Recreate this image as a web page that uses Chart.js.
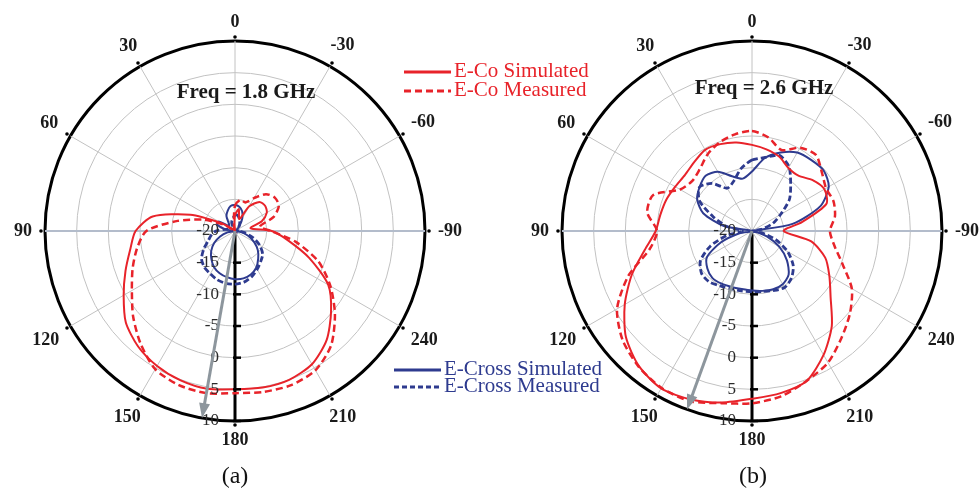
<!DOCTYPE html>
<html>
<head>
<meta charset="utf-8">
<script src="https://cdn.jsdelivr.net/npm/chart.js@4.4.1/dist/chart.umd.min.js"></script>
<style>
  body { margin: 0; background: #fff; }
  #wrap { position: relative; width: 979px; height: 494px; overflow: hidden;
          font-family: "Liberation Serif", "Times New Roman", serif; }
  canvas { position: absolute; top: 0; }
  .cap { position: absolute; top: 462px; width: 60px; text-align: center; font-size: 24px; color: #111; }
  .leg { position: absolute; font-size: 21px; line-height: 20px; white-space: nowrap; }
  .leg svg { vertical-align: middle; margin-right: 3px; }
</style>
</head>
<body>
<div id="wrap">
  <canvas id="chartA" width="490" height="494" style="left:0"></canvas>
  <canvas id="chartB" width="489" height="494" style="left:490px"></canvas>

  <div class="leg" style="left:404px;top:60px;color:#e8232a">
    <svg width="47" height="6"><line x1="0" y1="3" x2="47" y2="3" stroke="#e8232a" stroke-width="3"/></svg>E-Co Simulated
  </div>
  <div class="leg" style="left:404px;top:79px;color:#e8232a">
    <svg width="47" height="6"><line x1="0" y1="3" x2="47" y2="3" stroke="#e8232a" stroke-width="3" stroke-dasharray="7 4"/></svg>E-Co Measured
  </div>
  <div class="leg" style="left:394px;top:358px;color:#2e3b8f">
    <svg width="47" height="6"><line x1="0" y1="3" x2="47" y2="3" stroke="#2e3b8f" stroke-width="3"/></svg>E-Cross Simulated
  </div>
  <div class="leg" style="left:394px;top:375px;color:#2e3b8f">
    <svg width="47" height="6"><line x1="0" y1="3" x2="47" y2="3" stroke="#2e3b8f" stroke-width="3" stroke-dasharray="5 3"/></svg>E-Cross Measured
  </div>

  <div class="cap" style="left:205px">(a)</div>
  <div class="cap" style="left:723px">(b)</div>
</div>

<script>
// angles in degrees, counter-clockwise from the top (0 top, 90 left, 180 bottom)
const angles = Array.from({ length: 36 }, (_, i) => i * 10);
const angleTicks = [0, 30, 60, 90, 120, 150, 180, 210, 240, 270, 300, 330];
const angleTickLabels = ['0', '30', '60', '90', '120', '150', '180', '210', '240', '-90', '-60', '-30'];
const radialTicks = [-20, -15, -10, -5, 0, 5, 10];

// (a) Freq = 1.8 GHz, dB at angles 0..350
const coSimA = [-17.5, -19.5, -20, -20, -20, -19.5, -17.5, -12.5, -6.8, -4.3, -3.2, -1.6,
  0.3, 2.5, 3.8, 4.6, 5.1, 5.3, 5.0, 5.1, 5.0, 4.3, 2.5, -0.2,
  -3.0, -7.5, -11.5, -14.2, -17.5, -15.5, -14.2, -13.8, -14.0, -15.5, -18.0, -16.5];
const coMeaA = [-16, -19, -20, -20, -20, -20, -18, -14.8, -10.8, -6.0, -4.3, -2.8,
  -1.2, 1.0, 3.2, 5.2, 5.9, 6.0, 5.6, 5.8, 5.9, 5.4, 3.6, 0.6,
  -2.6, -6.0, -10.3, -14.3, -16.0, -13.5, -12.0, -11.8, -12.4, -14.0, -15.2, -15.0];
const crSimA = [-15.9, -16, -16.6, -17.3, -18.5, -18.8, -17, -17, -18.5, -20, -18.8, -17.5,
  -16.2, -15.1, -14.2, -13.4, -12.9, -12.6, -12.4, -12.4, -12.7, -13.3, -14.3, -15.3,
  -16.5, -17.8, -19, -20, -20, -20, -20, -19.5, -18.8, -17.7, -16.7, -16.1];
const crMeaA = [-17.5, -18, -18.5, -19.5, -20, -20, -20, -19.5, -18.5, -17, -16.2, -15.5,
  -14.3, -13.1, -12.5, -12.2, -11.8, -11.6, -11.6, -11.8, -12.3, -13.0, -13.7, -14.3,
  -15.5, -17, -18.5, -19.5, -20, -19.5, -19.5, -19.5, -19, -18.5, -18, -17.5];

// (b) Freq = 2.6 GHz
const coSimB = [-6.4, -5.8, -5.4, -5.2, -5.8, -6.2, -6.0, -5.6, -5.3, -4.8, -2.8, 0.2,
  3.2, 6.0, 7.8, 8.7, 8.3, 7.5, 6.5, 6.0, 5.2, 2.6, -0.4, -3.8,
  -5.9, -7.7, -10.5, -15, -12, -7.5, -6.8, -7.5, -8.6, -8.5, -7.5, -6.9];
const coMeaB = [-4.2, -4.5, -5.1, -6.0, -7.2, -7.7, -6.9, -3.4, -3.2, -5.0, -3.6, 0.8,
  4.6, 6.7, 7.9, 8.6, 8.6, 7.6, 7.2, 6.5, 5.2, 4.0, 2.0, 0.2,
  -1.8, -4.8, -6.8, -7.7, -6.7, -6.3, -6.5, -5.6, -4.3, -4.8, -6.4, -5.0];
const crSimB = [-10.6, -11.6, -10.8, -9.2, -8.6, -9.2, -10, -11.8, -15.5, -20, -18, -14.8,
  -11.8, -10.8, -10.3, -10.4, -10.6, -10.7, -10.6, -10.4, -10.2, -10.3, -11, -12.8,
  -15, -17.5, -19.5, -20, -13.5, -8.5, -6, -5.2, -5.4, -5.7, -6.8, -8.3];
const crMeaB = [-8.8, -10, -11.6, -12.2, -10.2, -9.2, -10.4, -13.5, -16, -18.5, -16, -13,
  -10.6, -9.6, -9.5, -10, -10.3, -10.4, -10.4, -10.3, -10, -9.7, -10.3, -11.5,
  -13.5, -16, -18.5, -20, -18.5, -16.5, -14.8, -12.3, -10.5, -8.3, -7.3, -8.2];

const RED = '#e8232a', BLUE = '#2e3b8f';

// radar goes clockwise, the plot goes counter-clockwise
const cwLabels = angles.map((_, k) => String((360 - k * 10) % 360));
const toCw = arr => arr.map((_, k) => arr[(36 - k) % 36]);
const idxOf = phi => ((360 - phi) % 360) / 10;

const polarDecor = {
  id: 'polarDecor',
  afterDatasetsDraw(chart, args, opts) {
    const s = chart.scales.r, ctx = chart.ctx;
    const cx = s.xCenter, cy = s.yCenter, R = s.drawingArea;
    ctx.save();

    // angle labels and small ticks
    ctx.font = 'bold 18px "Liberation Serif"';
    ctx.textAlign = 'center';
    ctx.textBaseline = 'middle';
    angleTicks.forEach((phi, i) => {
      const p = s.getPointPosition(idxOf(phi), R);
      const ux = (p.x - cx) / R, uy = (p.y - cy) / R;
      ctx.fillStyle = '#000';
      ctx.beginPath();
      ctx.arc(cx + ux * (R + 4), cy + uy * (R + 4), 1.8, 0, Math.PI * 2);
      ctx.fill();
      const w = ctx.measureText(angleTickLabels[i]).width;
      const d = R + 11 + Math.abs(ux) * (w / 2 + 2) + Math.abs(uy) * 8;
      ctx.fillStyle = '#1a1a1a';
      ctx.fillText(angleTickLabels[i], cx + ux * d, cy + uy * d);
    });

    // radial ticks along the 180 axis
    ctx.font = '17px "Liberation Serif"';
    ctx.textAlign = 'right';
    radialTicks.forEach(v => {
      const p = s.getPointPosition(idxOf(180), s.getDistanceFromCenterForValue(v));
      if (v > -20) {
        ctx.strokeStyle = '#000';
        ctx.lineWidth = 2.5;
        ctx.beginPath();
        ctx.moveTo(p.x - 2, p.y);
        ctx.lineTo(p.x + 6, p.y);
        ctx.stroke();
      }
      ctx.fillStyle = '#2a2a2a';
      ctx.fillText(String(v), p.x - 16, p.y);
    });

    // gray arrow
    const tip = s.getPointPosition(idxOf(opts.arrow), R);
    const ang = Math.atan2(tip.y - cy, tip.x - cx);
    ctx.strokeStyle = '#8d969d';
    ctx.fillStyle = '#8d969d';
    ctx.lineWidth = 3;
    ctx.beginPath();
    ctx.moveTo(cx, cy);
    ctx.lineTo(tip.x - Math.cos(ang) * 10, tip.y - Math.sin(ang) * 10);
    ctx.stroke();
    ctx.beginPath();
    ctx.moveTo(tip.x, tip.y);
    ctx.lineTo(tip.x - Math.cos(ang) * 15 + Math.sin(ang) * 5.5, tip.y - Math.sin(ang) * 15 - Math.cos(ang) * 5.5);
    ctx.lineTo(tip.x - Math.cos(ang) * 15 - Math.sin(ang) * 5.5, tip.y - Math.sin(ang) * 15 + Math.cos(ang) * 5.5);
    ctx.closePath();
    ctx.fill();

    // frequency caption
    ctx.font = 'bold 21px "Liberation Serif"';
    ctx.textAlign = 'center';
    ctx.fillStyle = '#1a1a1a';
    ctx.fillText(opts.freq, cx + opts.fx, cy + opts.fy);
    ctx.restore();
  }
};

function makeChart(id, series, pad, decor) {
  const ds = (data, color, dash, width) => ({
    data: toCw(data), borderColor: color, borderWidth: width, borderDash: dash,
    pointRadius: 0, fill: false, tension: 0.25
  });
  return new Chart(document.getElementById(id), {
    type: 'radar',
    data: {
      labels: cwLabels,
      datasets: [
        ds(series[0], RED, [], 2),
        ds(series[1], RED, [7, 4], 2.5),
        ds(series[2], BLUE, [], 2),
        ds(series[3], BLUE, [6, 3], 2.8)
      ]
    },
    options: {
      responsive: false,
      animation: false,
      devicePixelRatio: 1,
      events: [],
      layout: { padding: pad },
      plugins: { legend: { display: false }, tooltip: { enabled: false }, polarDecor: decor },
      scales: {
        r: {
          min: -20, max: 10,
          ticks: { display: false, stepSize: 5 },
          pointLabels: { display: false },
          grid: {
            circular: true,
            color: c => (c.tick && c.tick.value === 10) ? '#000' : '#c2c2c2',
            lineWidth: c => (c.tick && c.tick.value === 10) ? 3 : 1
          },
          angleLines: {
            color: c => {
              const phi = (360 - c.index * 10) % 360;
              if (phi % 30) return 'rgba(0,0,0,0)';
              if (phi === 180) return '#000';
              if (phi === 90 || phi === 270) return '#b3bccb';
              return '#c2c2c2';
            },
            lineWidth: c => {
              const phi = (360 - c.index * 10) % 360;
              if (phi % 30) return 0;
              if (phi === 180) return 3;
              if (phi === 90 || phi === 270) return 2;
              return 1;
            }
          }
        }
      }
    },
    plugins: [polarDecor]
  });
}

makeChart('chartA', [coSimA, coMeaA, crSimA, crMeaA],
  { left: 45, right: 65, top: 41, bottom: 73 },
  { freq: 'Freq = 1.8 GHz', fx: 11, fy: -138, arrow: 170 });
makeChart('chartB', [coSimB, coMeaB, crSimB, crMeaB],
  { left: 72, right: 37, top: 41, bottom: 73 },
  { freq: 'Freq = 2.6 GHz', fx: 12, fy: -142, arrow: 160 });
</script>
</body>
</html>
